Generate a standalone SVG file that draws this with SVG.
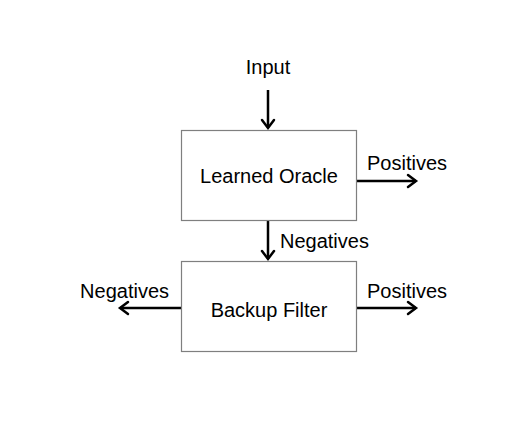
<svg xmlns="http://www.w3.org/2000/svg" width="525" height="437" viewBox="0 0 525 437">
<style>
.box{fill:#fff;stroke:#7f7f7f;stroke-width:1.2}
.t{font-family:"Liberation Sans",Arial,sans-serif;font-size:20px;fill:#000}
.c{stroke:#000;stroke-width:2.5;fill:none}
.h{stroke:#000;stroke-width:2.5;fill:none;stroke-linecap:round;stroke-linejoin:miter}
</style>
<rect width="525" height="437" fill="#fff"/>
<g id="connectors">
<line class="c" x1="268" y1="90" x2="268" y2="128"/>
<polyline class="h" points="262,120 268,128 274,120"/>
<line class="c" x1="357" y1="181" x2="416" y2="181"/>
<polyline class="h" points="408,175 416,181 408,187"/>
<line class="c" x1="268" y1="221" x2="268" y2="259"/>
<polyline class="h" points="262,251 268,259 274,251"/>
<line class="c" x1="181" y1="308" x2="120" y2="308"/>
<polyline class="h" points="128,302 120,308 128,314"/>
<line class="c" x1="357" y1="308" x2="416" y2="308"/>
<polyline class="h" points="408,302 416,308 408,314"/>
</g>
<g id="labels">
<text class="t" x="268" y="74" text-anchor="middle">Input</text>
<text class="t" x="367" y="170">Positives</text>
<text class="t" x="280" y="248">Negatives</text>
<text class="t" x="169" y="298" text-anchor="end">Negatives</text>
<text class="t" x="367" y="298">Positives</text>
</g>
<g id="learned-oracle">
<rect class="box" x="181.5" y="130.5" width="175" height="90"/>
<text class="t" x="269" y="183" text-anchor="middle">Learned Oracle</text>
</g>
<g id="backup-filter">
<rect class="box" x="181.5" y="261.5" width="175" height="90"/>
<text class="t" x="269" y="317" text-anchor="middle">Backup Filter</text>
</g>
</svg>
